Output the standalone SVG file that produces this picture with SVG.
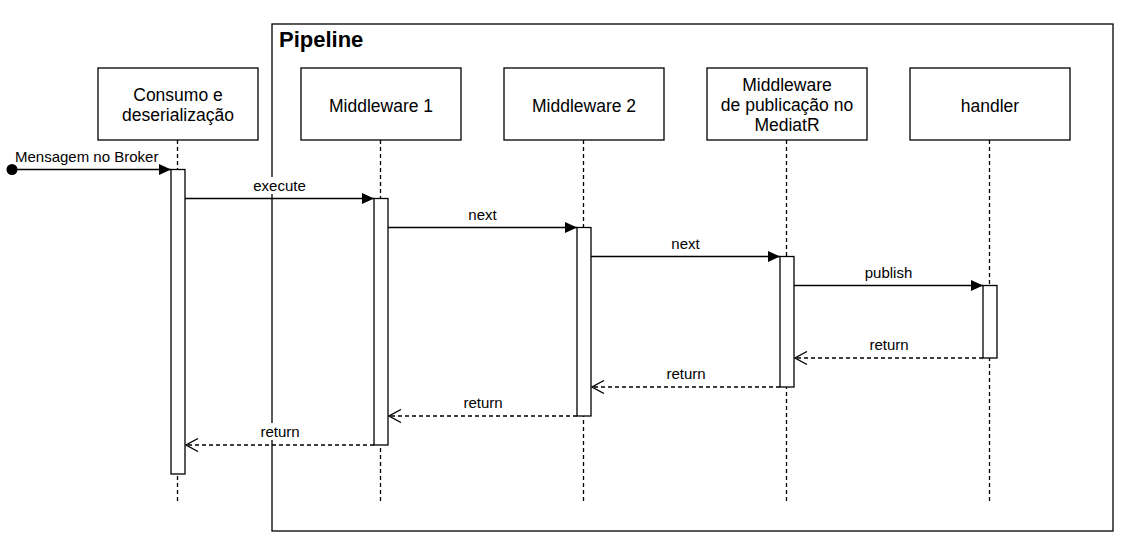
<svg xmlns="http://www.w3.org/2000/svg" width="1128" height="548" viewBox="0 0 1128 548">
<defs>
<style>
.box{fill:#fff;stroke:#000;stroke-width:1.3}
.frame{fill:none;stroke:#000;stroke-width:1.3}
.life{stroke:#000;stroke-width:1.3;stroke-dasharray:4 3;fill:none}
.bar{fill:#fff;stroke:#000;stroke-width:1.3}
.msg{stroke:#000;stroke-width:1.3;fill:none}
.ret{stroke:#000;stroke-width:1.3;fill:none;stroke-dasharray:4 3}
.nt{font-family:"Liberation Sans",Arial,sans-serif;font-size:17.5px;fill:#000;text-anchor:middle}
.lt{font-family:"Liberation Sans",Arial,sans-serif;font-size:15px;fill:#000;text-anchor:middle}
.bg{fill:#fff}
</style>
<marker id="fill" markerWidth="12" markerHeight="12" refX="12" refY="6" orient="auto" markerUnits="userSpaceOnUse">
<path d="M0,0.5 L12,6 L0,11.5 Z" fill="#000"/>
</marker>
<marker id="open" markerWidth="14" markerHeight="14" refX="13" refY="7" orient="auto" markerUnits="userSpaceOnUse">
<path d="M1,0.5 L13,7 L1,13.5" fill="none" stroke="#000" stroke-width="1.3"/>
</marker>
</defs>
<rect width="1128" height="548" fill="#fff"/>
<g id="pipeline">
<rect class="frame" x="272" y="24" width="841" height="507"/>
<text x="279" y="47" font-family="'Liberation Sans',Arial,sans-serif" font-size="22px" font-weight="bold">Pipeline</text>
</g>
<g id="lifelines">
<line class="life" x1="177.5" y1="140" x2="177.5" y2="503"/>
<line class="life" x1="380.5" y1="140" x2="380.5" y2="503"/>
<line class="life" x1="583.5" y1="140" x2="583.5" y2="503"/>
<line class="life" x1="786.5" y1="140" x2="786.5" y2="503"/>
<line class="life" x1="989.5" y1="140" x2="989.5" y2="503"/>
</g>
<g id="consumo">
<rect class="box" x="98" y="68" width="160" height="72"/>
<text class="nt" x="178" y="101">Consumo e</text>
<text class="nt" x="178" y="121">deserialização</text>
<rect class="bar" x="171" y="169.5" width="14" height="304.5"/>
</g>
<g id="middleware1">
<rect class="box" x="301" y="68" width="160" height="72"/>
<text class="nt" x="381" y="111.5">Middleware 1</text>
<rect class="bar" x="374" y="198.5" width="14" height="246.5"/>
</g>
<g id="middleware2">
<rect class="box" x="504" y="68" width="160" height="72"/>
<text class="nt" x="584" y="111.5">Middleware 2</text>
<rect class="bar" x="577" y="227.5" width="14" height="188.5"/>
</g>
<g id="middleware-pub">
<rect class="box" x="707" y="68" width="160" height="72"/>
<text class="nt" x="787" y="91">Middleware</text>
<text class="nt" x="787" y="111">de publicação no</text>
<text class="nt" x="787" y="131">MediatR</text>
<rect class="bar" x="780" y="256.5" width="14" height="130.5"/>
</g>
<g id="handler">
<rect class="box" x="910" y="68" width="160" height="72"/>
<text class="nt" x="990" y="111.5">handler</text>
<rect class="bar" x="983" y="285.5" width="14" height="72.5"/>
</g>
<g id="connectors">
<circle cx="12" cy="169.5" r="5.5" fill="#000"/>
<line class="msg" x1="12" y1="169.5" x2="171" y2="169.5" marker-end="url(#fill)"/>
<text x="15" y="161.5" font-family="'Liberation Sans',Arial,sans-serif" font-size="15px">Mensagem no Broker</text>

<line class="msg" x1="185" y1="198.5" x2="374" y2="198.5" marker-end="url(#fill)"/>
<rect class="bg" x="250" y="177" width="58" height="17"/>
<text class="lt" x="279.5" y="191">execute</text>

<line class="msg" x1="388" y1="227.5" x2="577" y2="227.5" marker-end="url(#fill)"/>
<text class="lt" x="482.5" y="220">next</text>

<line class="msg" x1="591" y1="256.5" x2="780" y2="256.5" marker-end="url(#fill)"/>
<text class="lt" x="685.5" y="249">next</text>

<line class="msg" x1="794" y1="285.5" x2="983" y2="285.5" marker-end="url(#fill)"/>
<text class="lt" x="888.5" y="278">publish</text>

<line class="ret" x1="983" y1="358" x2="795" y2="358" marker-end="url(#open)"/>
<text class="lt" x="889" y="350">return</text>

<line class="ret" x1="780" y1="387" x2="592" y2="387" marker-end="url(#open)"/>
<text class="lt" x="686" y="379">return</text>

<line class="ret" x1="577" y1="416" x2="389" y2="416" marker-end="url(#open)"/>
<text class="lt" x="483" y="408">return</text>

<line class="ret" x1="374" y1="445" x2="186" y2="445" marker-end="url(#open)"/>
<rect class="bg" x="256" y="423" width="48" height="17"/>
<text class="lt" x="280" y="437">return</text>
</g>
</svg>
